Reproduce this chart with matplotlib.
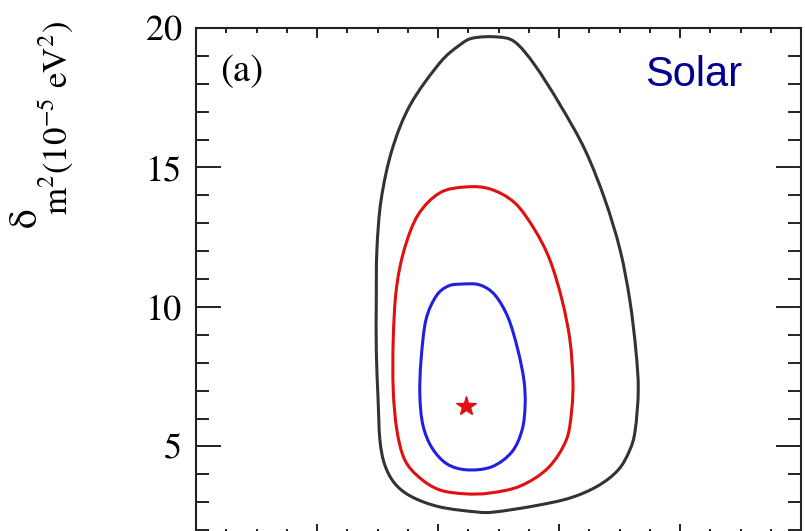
import matplotlib
matplotlib.use("Agg")
import matplotlib.pyplot as plt
import numpy as np
from matplotlib.path import Path
from matplotlib.patches import PathPatch
from matplotlib.ticker import MultipleLocator, NullFormatter

plt.rcParams['mathtext.fontset'] = 'stix'
plt.rcParams['font.family'] = ['STIXGeneral', 'DejaVu Serif']

# ---- data ----
black_x = [0.4975, 0.527, 0.560, 0.602, 0.643, 0.676, 0.701, 0.717, 0.727, 0.731, 0.726, 0.717,
           0.698, 0.664, 0.618, 0.560, 0.494, 0.464, 0.403, 0.357, 0.329, 0.312, 0.304, 0.301,
           0.298, 0.298, 0.299, 0.306, 0.324, 0.354, 0.403, 0.436, 0.458]
black_y = [19.68, 19.50, 18.67, 17.24, 15.63, 13.84, 12.04, 10.25, 8.46, 7.03, 5.59, 4.87,
           4.16, 3.58, 3.15, 2.87, 2.65, 2.65, 2.83, 3.19, 3.66, 4.34, 5.23, 6.67,
           8.46, 10.25, 12.04, 13.84, 15.63, 17.24, 18.75, 19.39, 19.64]

red_x = [0.445, 0.486, 0.527, 0.560, 0.585, 0.605, 0.618, 0.623, 0.621, 0.612, 0.582, 0.536,
         0.486, 0.445, 0.403, 0.370, 0.345, 0.332, 0.326, 0.326, 0.331, 0.344, 0.367, 0.403]
red_y = [14.30, 14.23, 13.73, 12.76, 11.68, 10.25, 8.82, 7.38, 6.31, 5.23, 4.23, 3.58,
         3.33, 3.30, 3.44, 3.87, 4.52, 5.59, 7.03, 8.82, 10.61, 12.04, 13.30, 14.09]

blue_x = [0.440, 0.469, 0.494, 0.516, 0.532, 0.542, 0.544, 0.539, 0.522, 0.489, 0.448, 0.415,
          0.390, 0.375, 0.370, 0.372, 0.380, 0.397, 0.417]
blue_y = [10.82, 10.79, 10.43, 9.61, 8.46, 7.38, 6.49, 5.59, 4.80, 4.27, 4.16, 4.37,
          4.95, 5.77, 6.85, 8.10, 9.53, 10.39, 10.75]

best_x = [0.446]
best_y = [6.45]

ytick_vals = [5, 10, 15, 20]
ytick_labels = ['5', '10', '15', '20']


def smooth_closed_path(ax, xs, ys):
    """Closed Catmull-Rom curve through the given points, drawn as cubic Beziers in display space."""
    pts = ax.transData.transform(np.column_stack([xs, ys]))
    n = len(pts)
    verts = [pts[0]]
    codes = [Path.MOVETO]
    for i in range(n):
        p0, p1, p2, p3 = pts[i - 1], pts[i], pts[(i + 1) % n], pts[(i + 2) % n]
        c1 = p1 + (p2 - p0) / 6.0
        c2 = p2 - (p3 - p1) / 6.0
        verts += [c1, c2, p2]
        codes += [Path.CURVE4] * 3
    return Path(verts, codes)


# ---- figure ----
fig = plt.figure(figsize=(8.05, 5.31), dpi=100)
ax = fig.add_axes([196/805, -3/531, (801-196)/805, (534-28)/531])
ax.set_xlim(0, 1)
ax.set_ylim(1.86, 20)

for xs, ys, col in [(black_x, black_y, '#333333'), (red_x, red_y, '#e01010'), (blue_x, blue_y, '#2020e0')]:
    p = smooth_closed_path(ax, xs, ys)
    ax.add_patch(PathPatch(p, transform=None, fill=False, edgecolor=col, lw=2.2, joinstyle='round'))

ax.plot(best_x, best_y, marker='*', color='#e01010', ms=15, ls='none')

ax.xaxis.set_major_locator(MultipleLocator(0.2))
ax.xaxis.set_minor_locator(MultipleLocator(0.05))
ax.xaxis.set_major_formatter(NullFormatter())
ax.set_yticks(ytick_vals)
ax.set_yticklabels(ytick_labels)
ax.yaxis.set_minor_locator(MultipleLocator(1))

ax.tick_params(axis='both', which='both', direction='in', top=True, right=True, width=1.4, color='#222222')
ax.tick_params(axis='x', which='major', length=7.2)
ax.tick_params(axis='x', which='minor', length=3.6)
ax.tick_params(axis='y', which='major', length=18, pad=10, labelsize=26)
ax.tick_params(axis='y', which='minor', length=9.5)
for s in ax.spines.values():
    s.set_linewidth(1.5)
    s.set_color('#222222')

ax.text(0.076, 18.42, '(a)', fontsize=28, ha='center', va='center')
ax.text(0.823, 18.32, 'Solar', fontsize=30, ha='center', va='center',
        color='#000090', family=['Liberation Sans', 'DejaVu Sans'])

fig.text(0.0335, 0.591, 'δ', fontsize=28, rotation=90, ha='center', va='center')
fig.text(56/805, 0.778, r'm$^2$(10$^{-5}$ eV$^2$)', fontsize=25, rotation=90, ha='center', va='center')

fig.savefig('out.png', dpi=100)
